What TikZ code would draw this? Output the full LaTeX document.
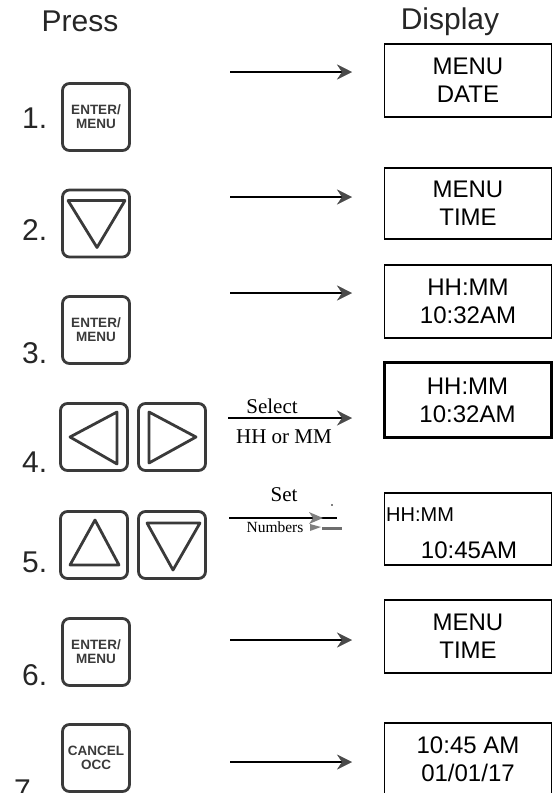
\documentclass[tikz,border=0pt]{standalone}
\usepackage{fontspec}
\setmainfont{Liberation Sans}
\newfontfamily\timesfont{Liberation Serif}
\usetikzlibrary{arrows.meta}

\definecolor{keygray}{HTML}{3A3A3A}
\definecolor{tipgray}{HTML}{4A4A4A}

\tikzset{
  btn/.style={draw=keygray, line width=2.8pt, rounded corners=7pt, minimum width=67pt, minimum height=67pt,
    inner sep=0pt, align=center, text=keygray, font=\fontsize{13.5}{14}\selectfont\bfseries},
  lcd/.style={draw, line width=1.5pt, minimum width=167pt, minimum height=72pt, inner sep=0pt,
    align=center, font=\fontsize{24}{28}\selectfont},
  num/.style={anchor=base west, inner sep=0pt, text=black!85, font=\fontsize{30}{34}\selectfont},
  head/.style={anchor=base, inner sep=0pt, text=black!85, font=\fontsize{30}{34}\selectfont},
  tri/.style={draw=keygray, line width=2.8pt, line join=round},
  flow/.style={draw, line width=2pt, -{Stealth[length=15pt,width=15pt,inset=5pt,line width=0.4pt,color=tipgray]}},
  lbl/.style={inner sep=0pt, font=\fontsize{21}{22}\timesfont}
}

\begin{document}
\begin{tikzpicture}[x=1pt,y=-1pt]
\useasboundingbox (0,0) rectangle (553,793);

\node[head] (press) at (80,31) {Press};
\node[head] (disp) at (450,29) {Display};

% buttons
\node[btn] (b1) at (96,117) {ENTER/\\MENU};
\node[btn] (b2) at (96,223.5) {};
\node[btn] (b3) at (96,330) {ENTER/\\MENU};
\node[btn] (b4l) at (94,437) {};
\node[btn] (b4r) at (172,437) {};
\node[btn] (b5l) at (94,545) {};
\node[btn] (b5r) at (172,545) {};
\node[btn] (b6) at (96,652) {ENTER/\\MENU};
\node[btn] (b7) at (96,758) {CANCEL\\OCC};

\draw[tri] ([shift={(-28,-23)}]b2.center) -- ([shift={(29,-23)}]b2.center) -- ([shift={(1,24)}]b2.center) -- cycle;
\draw[tri] ([shift={(-24,0)}]b4l.center) -- ([shift={(23,-25)}]b4l.center) -- ([shift={(23,27)}]b4l.center) -- cycle;
\draw[tri] ([shift={(-23,-25)}]b4r.center) -- ([shift={(24,0)}]b4r.center) -- ([shift={(-23,26)}]b4r.center) -- cycle;
\draw[tri] ([shift={(1,-25)}]b5l.center) -- ([shift={(25,20)}]b5l.center) -- ([shift={(-24,20)}]b5l.center) -- cycle;
\draw[tri] ([shift={(-25,-22)}]b5r.center) -- ([shift={(28,-22)}]b5r.center) -- ([shift={(1,25)}]b5r.center) -- cycle;

% step numbers
\node[num] (n1) at (22,128) {1.};
\node[num] (n2) at (22,240) {2.};
\node[num] (n3) at (22,363) {3.};
\node[num] (n4) at (22,472) {4.};
\node[num] (n5) at (22,572) {5.};
\node[num] (n6) at (22,685) {6.};
\node[num] (n7) at (14,800) {7.};

% displays
\node[lcd, minimum height=73pt] (d1) at (468,80.5) {MENU\\DATE};
\node[lcd, minimum height=71pt] (d2) at (468,203.5) {MENU\\TIME};
\node[lcd, minimum height=73pt] (d3) at (468,301.5) {HH:MM\\10:32AM};
\node[lcd, minimum height=75pt, line width=3pt] (d4) at (467.5,400) {HH:MM\\10:32AM};
\node[lcd] (d5) at (468,529) {};
\node[lcd, minimum height=73pt] (d6) at (468,636.5) {MENU\\TIME};
\node[lcd] (d7) at (468,759) {10:45 AM\\01/01/17};
\node[anchor=west, inner sep=0pt, font=\fontsize{20}{22}\selectfont] (d5a) at (386,515) {HH:MM};
\node[inner sep=0pt, font=\fontsize{24}{28}\selectfont] (d5b) at (469,550) {10:45AM};

% arrows
\coordinate (a1s) at (230,72);  \coordinate (a1e) at (352,72);
\coordinate (a2s) at (230,197); \coordinate (a2e) at (352,197);
\coordinate (a3s) at (230,293); \coordinate (a3e) at (352,293);
\coordinate (a4s) at (228,418); \coordinate (a4e) at (352,418);
\coordinate (a5s) at (229,518); \coordinate (a5e) at (337,518);
\coordinate (a6s) at (230,640); \coordinate (a6e) at (352,640);
\coordinate (a7s) at (230,762); \coordinate (a7e) at (352,762);

\path[flow] (a1s) -- (a1e);
\path[flow] (a2s) -- (a2e);
\path[flow] (a3s) -- (a3e);
\path[flow] (a4s) -- (a4e);
\path[draw,line width=2pt] (a5s) -- (a5e);
\path[flow] (a6s) -- (a6e);
\path[flow] (a7s) -- (a7e);

\fill[tipgray!70] (309,512) -- (323,518) -- (309,524) -- (313,518) -- cycle;
\fill[tipgray!70] (310,524) -- (321,527) -- (310,531) -- cycle;
\path[draw,line width=3pt,tipgray!80] (322,528) -- (342,528);
\fill (332,505) circle (0.9pt);

\node[lbl] (sel) at (272,406) {Select};
\node[lbl] (hhmm) at (284,437) {HH or MM};
\node[lbl] (set) at (284,495) {Set};
\node[lbl, font=\fontsize{15.5}{16}\timesfont] (nums) at (275,527) {Numbers};
\end{tikzpicture}
\end{document}
